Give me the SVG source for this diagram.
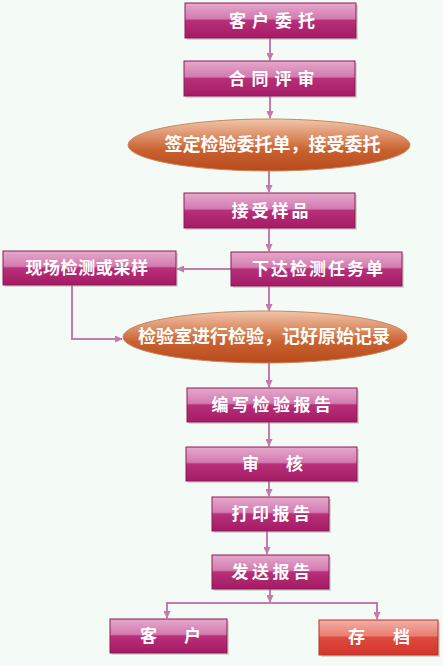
<svg xmlns="http://www.w3.org/2000/svg" width="443" height="666" viewBox="0 0 443 666">
<defs>
<linearGradient id="gm" x1="0" y1="0" x2="0" y2="1">
<stop offset="0" stop-color="#e6a9cc"/>
<stop offset="0.45" stop-color="#d27bb0"/>
<stop offset="0.5" stop-color="#b8307a"/>
<stop offset="1" stop-color="#a51a64"/>
</linearGradient>
<linearGradient id="gr" x1="0" y1="0" x2="0" y2="1">
<stop offset="0" stop-color="#f2b0a8"/>
<stop offset="0.45" stop-color="#ea7d70"/>
<stop offset="0.5" stop-color="#dd4a3e"/>
<stop offset="1" stop-color="#d4352c"/>
</linearGradient>
<linearGradient id="go" x1="0" y1="0" x2="0" y2="1">
<stop offset="0" stop-color="#efc6ae"/>
<stop offset="0.35" stop-color="#dc8c62"/>
<stop offset="0.6" stop-color="#c9612f"/>
<stop offset="1" stop-color="#b84a1c"/>
</linearGradient>
<marker id="ah" markerWidth="8" markerHeight="7" refX="7" refY="3.5" orient="auto" markerUnits="userSpaceOnUse">
<path d="M0,0 L8,3.5 L0,7 Z" fill="#c57aac"/>
</marker>
<style>
.bm{fill:url(#gm);stroke:#8c1a56;stroke-width:1}
.br{fill:url(#gr);stroke:#b8332a;stroke-width:1}
.el{fill:url(#go);stroke:#c9875f;stroke-width:1}
.sh{fill:#9a9a9a;opacity:0.35}
.t{font-family:"Noto Sans CJK SC","Noto Sans CJK JP",sans-serif;font-weight:bold;fill:#ffffff;text-anchor:middle;font-size:17px}
.te{font-size:18px}
.ts{text-anchor:start}
.c{fill:none;stroke:#c57aac;stroke-width:2}
</style>
</defs>
<rect width="443" height="666" fill="#f4faf6"/>
<g id="connectors">
<path class="c" d="M270 38 V60" marker-end="url(#ah)"/>
<path class="c" d="M270 96 V118" marker-end="url(#ah)"/>
<path class="c" d="M269 171 V192" marker-end="url(#ah)"/>
<path class="c" d="M269 228 V251" marker-end="url(#ah)"/>
<path class="c" d="M231 269 H177" marker-end="url(#ah)"/>
<path class="c" d="M269 286 V311" marker-end="url(#ah)"/>
<path class="c" d="M72 285 V339 H122" marker-end="url(#ah)"/>
<path class="c" d="M269 363 V387" marker-end="url(#ah)"/>
<path class="c" d="M269 422 V446" marker-end="url(#ah)"/>
<path class="c" d="M269 481 V496" marker-end="url(#ah)"/>
<path class="c" d="M267 531 V554" marker-end="url(#ah)"/>
<path class="c" d="M270 589 V602" marker-end="url(#ah)"/>
<path class="c" d="M167 618 V603 H377 V618"/>
<path class="c" d="M167 610 V618" marker-end="url(#ah)"/>
<path class="c" d="M377 610 V619" marker-end="url(#ah)"/>
</g>
<g id="n1">
<rect class="sh" x="187" y="5" width="171" height="35"/>
<rect class="bm" x="185" y="3" width="171" height="35"/>
<text class="t" x="275" y="27" letter-spacing="6">客户委托</text>
</g>
<g id="n2">
<rect class="sh" x="186" y="63" width="171" height="35"/>
<rect class="bm" x="184" y="61" width="171" height="35"/>
<text class="t" x="274.5" y="85" letter-spacing="6">合同评审</text>
</g>
<g id="n3">
<ellipse class="el" cx="269" cy="145" rx="141" ry="26"/>
<text class="t te" x="272.5" y="151">签定检验委托单，接受委托</text>
</g>
<g id="n4">
<rect class="sh" x="186" y="195" width="171" height="35"/>
<rect class="bm" x="184" y="193" width="171" height="35"/>
<text class="t" x="271.5" y="217" letter-spacing="3">接受样品</text>
</g>
<g id="n5">
<rect class="sh" x="233" y="254" width="171" height="34"/>
<rect class="bm" x="231" y="252" width="171" height="34"/>
<text class="t" x="318.5" y="275" letter-spacing="2">下达检测任务单</text>
</g>
<g id="n6">
<rect class="sh" x="5" y="253" width="173" height="34"/>
<rect class="bm" x="3" y="251" width="173" height="34"/>
<text class="t" x="87" y="274" letter-spacing="0.6">现场检测或采样</text>
</g>
<g id="n7">
<ellipse class="el" cx="265" cy="337" rx="142" ry="26"/>
<text class="t te" x="264" y="343">检验室进行检验，记好原始记录</text>
</g>
<g id="n8">
<rect class="sh" x="189" y="390" width="170" height="34"/>
<rect class="bm" x="187" y="388" width="170" height="34"/>
<text class="t" x="273" y="411" letter-spacing="3.5">编写检验报告</text>
</g>
<g id="n9">
<rect class="sh" x="188" y="449" width="171" height="34"/>
<rect class="bm" x="186" y="447" width="171" height="34"/>
<text class="t ts" y="470"><tspan x="242">审</tspan><tspan x="286">核</tspan></text>
</g>
<g id="n10">
<rect class="sh" x="214" y="499" width="117" height="34"/>
<rect class="bm" x="212" y="497" width="117" height="34"/>
<text class="t" x="272.5" y="520" letter-spacing="3.5">打印报告</text>
</g>
<g id="n11">
<rect class="sh" x="214" y="557" width="117" height="34"/>
<rect class="bm" x="212" y="555" width="117" height="34"/>
<text class="t" x="272.5" y="578" letter-spacing="3.5">发送报告</text>
</g>
<g id="n12">
<rect class="sh" x="112" y="621" width="117" height="34"/>
<rect class="bm" x="110" y="619" width="117" height="34"/>
<text class="t ts" y="642"><tspan x="140">客</tspan><tspan x="184">户</tspan></text>
</g>
<g id="n13">
<rect class="sh" x="321" y="622" width="119" height="35"/>
<rect class="br" x="319" y="620" width="119" height="35"/>
<text class="t ts" y="643"><tspan x="348">存</tspan><tspan x="393">档</tspan></text>
</g>
</svg>
